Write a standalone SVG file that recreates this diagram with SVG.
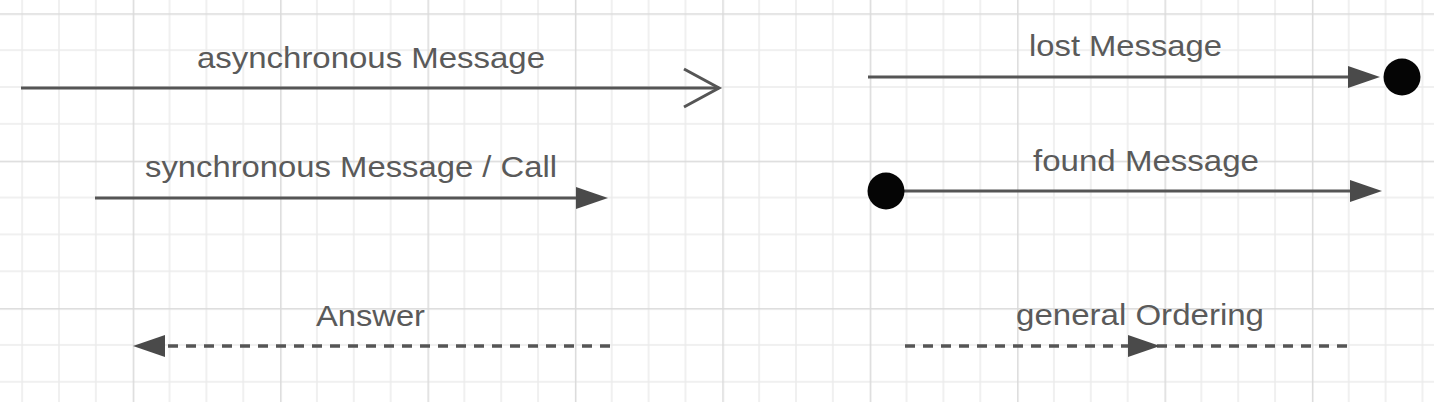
<svg xmlns="http://www.w3.org/2000/svg" width="1434" height="402" viewBox="0 0 1434 402">
  <style>
    .lbl { font-family: "Liberation Sans", Arial, sans-serif; font-size: 30px; fill: #5a5a5a; }
    .ln { stroke: #555555; stroke-width: 3; fill: none; }
    .dash { stroke-width: 3.5; stroke-dasharray: 10 8; }
    .dot { fill: #050505; }
  </style>
  <defs>
    <pattern id="grid" patternUnits="userSpaceOnUse" x="132.7" y="13.3" width="147.4" height="147.4">
      <path d="M36.85,0 V147.4 M73.7,0 V147.4 M110.55,0 V147.4 M0,36.85 H147.4 M0,73.7 H147.4 M0,110.55 H147.4" stroke="#ebebeb" stroke-width="1.5" fill="none"/>
      <path d="M0.75,0 V147.4 M0,0.75 H147.4" stroke="#dadada" stroke-width="1.5" fill="none"/>
    </pattern>
    <marker id="tri" markerUnits="userSpaceOnUse" markerWidth="34" markerHeight="24" refX="0" refY="11" orient="auto" overflow="visible">
      <path d="M0,0 L32,11 L0,22 Z" fill="#4a4a4a"/>
    </marker>
    <marker id="open" markerUnits="userSpaceOnUse" markerWidth="40" markerHeight="42" refX="36" refY="20" orient="auto" overflow="visible">
      <path d="M1,1 L36,20 L1,39" fill="none" stroke="#555555" stroke-width="3"/>
    </marker>
  </defs>
  <rect x="0" y="0" width="1434" height="402" fill="#ffffff"/>
  <rect x="0" y="0" width="1434" height="402" fill="url(#grid)"/>

  <g id="connectors">
    <path id="c-async" class="ln" d="M21,88 H719" marker-end="url(#open)"/>
    <path id="c-sync" class="ln" d="M95,198 H576" marker-end="url(#tri)"/>
    <path id="c-answer" class="ln dash" d="M610,346 H165" marker-end="url(#tri)"/>
    <path id="c-lost" class="ln" d="M868,77 H1348" marker-end="url(#tri)"/>
    <path id="c-found" class="ln" d="M886,191 H1350" marker-end="url(#tri)"/>
    <path id="c-order" class="ln dash" d="M905,346 L1128,346 L1347,346" marker-mid="url(#tri)"/>
  </g>

  <g id="lost-end">
    <circle class="dot" cx="1402" cy="77" r="18.5"/>
  </g>
  <g id="found-start">
    <circle class="dot" cx="886" cy="191" r="18.5"/>
  </g>

  <g id="label-async">
    <text class="lbl" x="197" y="68" textLength="348" lengthAdjust="spacingAndGlyphs">asynchronous Message</text>
  </g>
  <g id="label-sync">
    <text class="lbl" x="145" y="177" textLength="412" lengthAdjust="spacingAndGlyphs">synchronous Message / Call</text>
  </g>
  <g id="label-answer">
    <text class="lbl" x="316" y="326" textLength="109" lengthAdjust="spacingAndGlyphs">Answer</text>
  </g>
  <g id="label-lost">
    <text class="lbl" x="1029" y="56" textLength="193" lengthAdjust="spacingAndGlyphs">lost Message</text>
  </g>
  <g id="label-found">
    <text class="lbl" x="1033" y="171" textLength="226" lengthAdjust="spacingAndGlyphs">found Message</text>
  </g>
  <g id="label-order">
    <text class="lbl" x="1016" y="325" textLength="248" lengthAdjust="spacingAndGlyphs">general Ordering</text>
  </g>
</svg>
